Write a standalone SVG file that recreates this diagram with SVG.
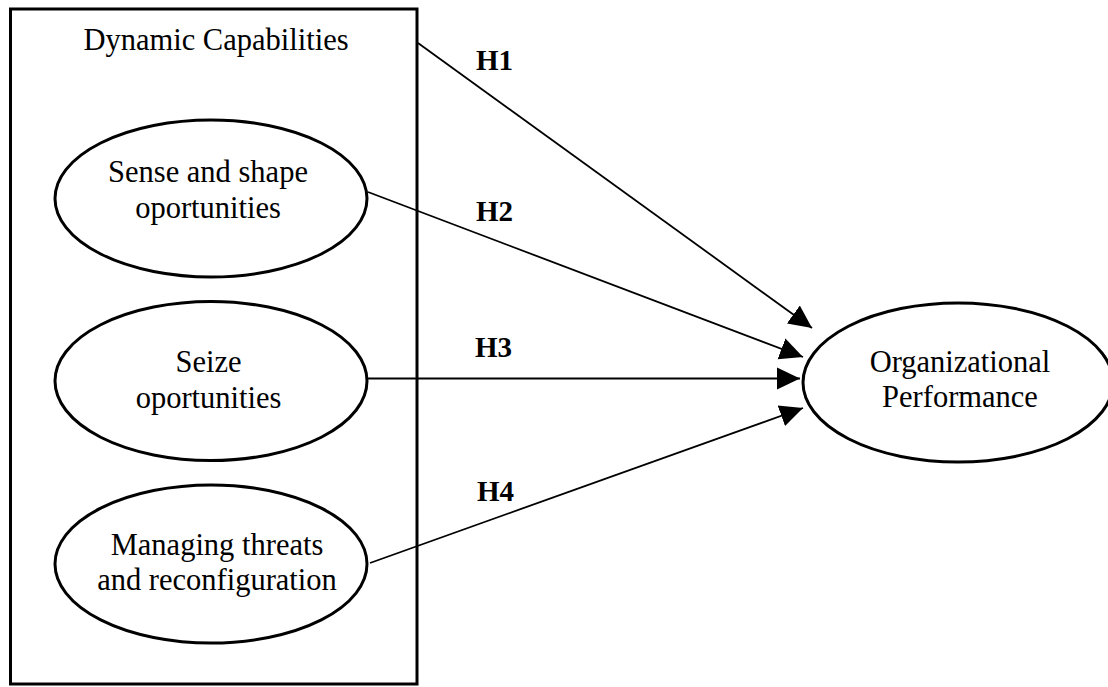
<svg xmlns="http://www.w3.org/2000/svg" width="1108" height="687" viewBox="0 0 1108 687">
  <style>
    .node { fill: #fff; stroke: #000; stroke-width: 3; }
    .lbl { font-family: "Liberation Serif", "Times New Roman", serif; font-size: 30.5px; fill: #000; text-anchor: middle; }
    .h { font-family: "Liberation Serif", "Times New Roman", serif; font-size: 29px; font-weight: bold; fill: #000; }
    .conn { stroke: #000; stroke-width: 1.8; fill: none; marker-end: url(#arrow); }
  </style>
  <defs>
    <marker id="arrow" markerUnits="userSpaceOnUse" markerWidth="24" markerHeight="24" viewBox="0 0 24 24" refX="23" refY="12" orient="auto">
      <path d="M0,1 L23,12 L0,23 Z" fill="#000"/>
    </marker>
  </defs>
  <rect width="1108" height="687" fill="#fff"/>
  <g id="dynamic-capabilities">
    <rect x="10.5" y="9" width="406.5" height="675" fill="none" stroke="#000" stroke-width="3"/>
    <text class="lbl" x="216" y="50">Dynamic Capabilities</text>
  </g>
  <g id="sense-shape">
    <ellipse class="node" cx="211" cy="198.5" rx="156" ry="78.5"/>
    <text class="lbl" x="208" y="182">Sense and shape</text>
    <text class="lbl" x="208" y="218">oportunities</text>
  </g>
  <g id="seize">
    <ellipse class="node" cx="211" cy="381" rx="156" ry="79.5"/>
    <text class="lbl" x="208.5" y="372">Seize</text>
    <text class="lbl" x="208.5" y="408">oportunities</text>
  </g>
  <g id="managing-threats">
    <ellipse class="node" cx="211" cy="564" rx="156" ry="79"/>
    <text class="lbl" x="217" y="555">Managing threats</text>
    <text class="lbl" x="217" y="590">and reconfiguration</text>
  </g>
  <g id="organizational-performance">
    <ellipse class="node" cx="958" cy="382.5" rx="155" ry="79.5"/>
    <text class="lbl" x="960" y="372">Organizational</text>
    <text class="lbl" x="960" y="407">Performance</text>
  </g>
  <g id="connectors">
    <line class="conn" x1="418" y1="43" x2="812" y2="328"/>
    <line class="conn" x1="368" y1="192" x2="803" y2="357"/>
    <line class="conn" x1="368" y1="378.5" x2="800" y2="378.5"/>
    <line class="conn" x1="370" y1="563" x2="803" y2="408"/>
    <text class="h" x="476" y="70">H1</text>
    <text class="h" x="476" y="221">H2</text>
    <text class="h" x="475" y="357">H3</text>
    <text class="h" x="477" y="501">H4</text>
  </g>
</svg>
